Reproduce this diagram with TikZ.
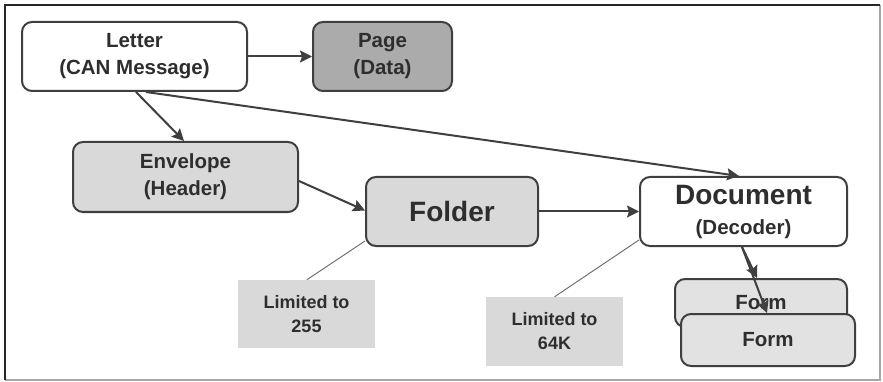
\documentclass[tikz,border=0pt]{standalone}
\usepackage{fontspec}
\setmainfont{Liberation Sans}
\usetikzlibrary{arrows.meta,calc}
\definecolor{ink}{HTML}{2E2E2E}
\definecolor{edge}{HTML}{3F3F3F}
\definecolor{pagefill}{HTML}{ABABAB}
\definecolor{lightfill}{HTML}{D9D9D9}
\definecolor{formfill}{HTML}{E2E2E2}
\tikzset{
  box/.style={draw=edge, line width=2pt, rounded corners=10pt, align=center,
    text=ink, font=\fontsize{20.5}{27}\selectfont\bfseries, inner sep=0pt},
  note/.style={fill=lightfill, align=center, text=ink, inner sep=0pt,
    minimum width=137pt, minimum height=68pt, font=\fontsize{18}{24}\selectfont\bfseries},
  arr/.style={draw=edge, line width=2pt, -{Stealth[length=12pt,width=12pt,inset=2pt]}},
  callout/.style={draw=gray!80!black, line width=0.9pt}
}
\begin{document}
\begin{tikzpicture}[x=1pt,y=-1pt]
\useasboundingbox (0,0) rectangle (883,382);
% frame
\draw[line width=1.8pt, draw=gray!70] (5,380) -- (880,380) -- (880,5);
\draw[line width=1.8pt, draw=black!85] (5,380) -- (5,5) -- (880,5);
% nodes
\node[box, fill=white, minimum width=225pt, minimum height=69pt] (letter) at (134.5,56.5) {Letter\\(CAN Message)};
\node[box, fill=pagefill, minimum width=139pt, minimum height=69pt] (page) at (382.5,56.5) {Page\\(Data)};
\node[box, fill=lightfill, minimum width=225pt, minimum height=70pt] (env) at (185.5,177) {Envelope\\(Header)};
\node[box, fill=lightfill, minimum width=172pt, minimum height=69pt, font=\fontsize{28}{30}\selectfont\bfseries] (folder) at (452,211.5) {Folder};
\node[box, fill=white, minimum width=207pt, minimum height=69pt] (doc) at (743.5,211.5) {{\fontsize{28}{30}\selectfont Document}\\[3pt]{\fontsize{20.5}{24}\selectfont (Decoder)}};
\node[box, fill=formfill, minimum width=172pt, minimum height=48pt] (formb) at (761,303) {Form};
\node[note] (lim255) at (306.5,314) {Limited to\\255};
\node[note, minimum height=69pt] (lim64) at (554.5,331.5) {Limited to\\64K};
% connectors
\draw[arr] (letter.east) -- (page.west);
\draw[arr] ($(letter.south west)+(115,0)$) -- ($(env.north west)+(112,0)$);
\draw[arr] ($(letter.south west)+(125,0)$) -- ($(doc.north west)+(100,0)$);
\draw[arr] ($(env.east)+(0,4)$) -- ($(folder.west)+(0,-1)$);
\draw[arr] (folder.east) -- (doc.west);
\draw[callout] ($(folder.south west)+(0,-6)$) -- ($(lim255.north west)+(69,0)$);
\draw[callout] ($(doc.south west)+(0,-7)$) -- (lim64.north);
\coordinate (dstart) at ($(doc.south west)+(103,0)$);
\draw[arr] (dstart) -- ($(formb.north west)+(83,0)$);
\node[box, fill=formfill, minimum width=174pt, minimum height=52pt] (formf) at (768,340) {Form};
\draw[arr] (dstart) -- ($(formf.north west)+(87,0)$);
\end{tikzpicture}
\end{document}
